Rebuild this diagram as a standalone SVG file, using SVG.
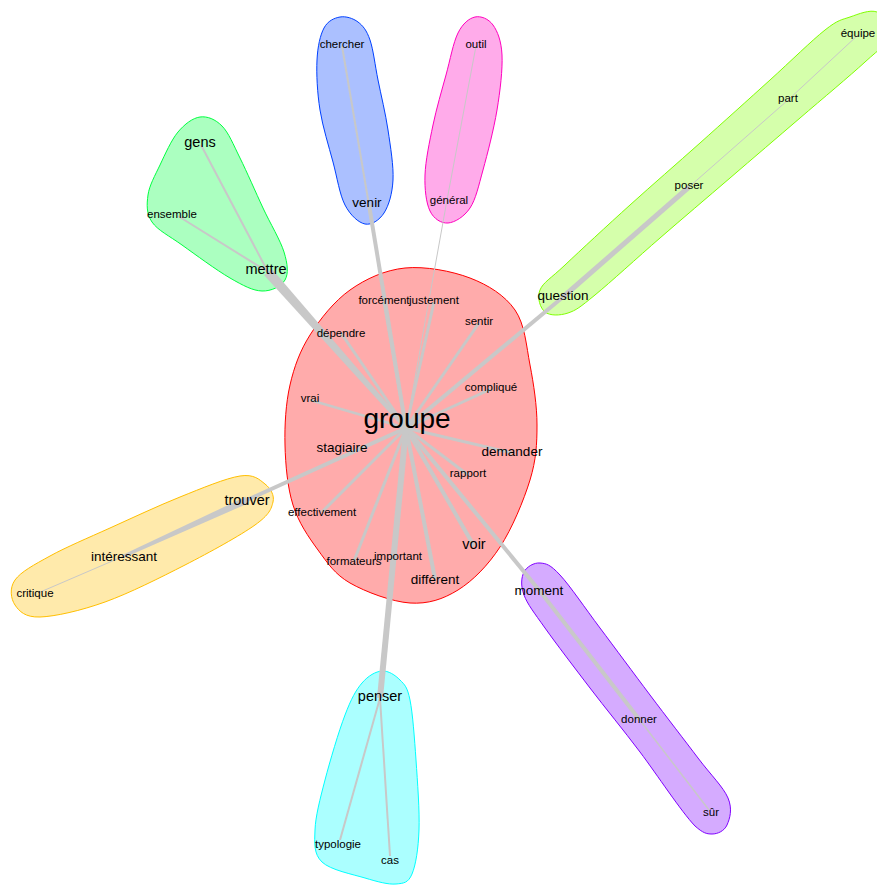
<svg xmlns="http://www.w3.org/2000/svg" width="877" height="885" viewBox="0 0 877 885">
<style>
.hull{stroke-width:1;fill-opacity:0.33}
.e{stroke:#c8c8c8;stroke-linecap:butt;fill:none}
.ep{fill:#c8c8c8;stroke:none}
text{font-family:"Liberation Sans",Arial,sans-serif;fill:#000;text-anchor:middle}
.s{font-size:11.5px}
.m{font-size:13.5px}
.l{font-size:14.5px}
.xl{font-size:28px}
</style>
<rect width="877" height="885" fill="#fff"/>
<g id="hulls">
<path id="hull-red" class="hull" fill="#ff0000" stroke="#ff0000" d="M 405,268 C 425,266 451.7,271 470,278 C 488.3,285 505,295.5 515,310 C 525,324.5 526.3,345.8 530,365 C 533.7,384.2 537,405.8 537,425 C 537,444.2 536.2,459.7 530,480 C 523.8,500.3 512,528.7 500,547 C 488,565.3 473,580.7 458,590 C 443,599.3 428,604.2 410,603 C 392,601.8 365.3,591.8 350,583 C 334.7,574.2 327.5,563 318,550 C 308.5,537 298.5,522.5 293,505 C 287.5,487.5 285.5,465 285,445 C 284.5,425 285.8,403.3 290,385 C 294.2,366.7 300,350.8 310,335 C 320,319.2 334.2,301.2 350,290 C 365.8,278.8 385,270 405,268 Z"/>
<path id="hull-green" class="hull" fill="#00ff40" stroke="#00ff40" d="M 200,117 C 207.3,116 215.3,119.2 222,126 C 228.7,132.8 233.2,144.3 240,158 C 246.8,171.7 255.7,192.3 263,208 C 270.3,223.7 280.3,240 284,252 C 287.7,264 288.7,273.5 285,280 C 281.3,286.5 271.2,291.3 262,291 C 252.8,290.7 243.3,285.7 230,278 C 216.7,270.3 195,254.3 182,245 C 169,235.7 157.7,230.3 152,222 C 146.3,213.7 146.7,204.5 148,195 C 149.3,185.5 155,175.5 160,165 C 165,154.5 171.3,140 178,132 C 184.7,124 192.7,118 200,117 Z"/>
<path id="hull-blue" class="hull" fill="#0040ff" stroke="#0040ff" d="M 340,17 C 345.7,16 353,18.2 358,22 C 363,25.8 366.7,30.3 370,40 C 373.3,49.7 375,65 378,80 C 381,95 385.5,113.3 388,130 C 390.5,146.7 393.7,166.2 393,180 C 392.3,193.8 388.7,205.7 384,213 C 379.3,220.3 371.5,225.3 365,224 C 358.5,222.7 350.3,215.3 345,205 C 339.7,194.7 337.2,177.8 333,162 C 328.8,146.2 322.7,127 320,110 C 317.3,93 316.3,73.7 317,60 C 317.7,46.3 320.2,35.2 324,28 C 327.8,20.8 334.3,18 340,17 Z"/>
<path id="hull-pink" class="hull" fill="#ff00bf" stroke="#ff00bf" d="M 475,17 C 480.8,15.7 488.5,18.7 493,25 C 497.5,31.3 501.3,40.8 502,55 C 502.7,69.2 500.2,90.8 497,110 C 493.8,129.2 487.5,153.7 483,170 C 478.5,186.3 475.8,199.2 470,208 C 464.2,216.8 454.7,222.5 448,223 C 441.3,223.5 433.8,219 430,211 C 426.2,203 424.5,189.3 425,175 C 425.5,160.7 429.5,141.7 433,125 C 436.5,108.3 441.8,90.3 446,75 C 450.2,59.7 453.2,42.7 458,33 C 462.8,23.3 469.2,18.3 475,17 Z"/>
<path id="hull-lime" class="hull" fill="#80ff00" stroke="#80ff00" d="M 850,17 C 858.7,14 869.8,9.3 877,12 C 884.2,14.7 895,24.7 893,33 C 891,41.3 880.5,47.8 865,62 C 849.5,76.2 822.5,98.7 800,118 C 777.5,137.3 753.3,158 730,178 C 706.7,198 682.5,218.5 660,238 C 637.5,257.5 610.3,282.5 595,295 C 579.7,307.5 576.3,310.2 568,313 C 559.7,315.8 549.7,315.8 545,312 C 540.3,308.2 536.7,297.8 540,290 C 543.3,282.2 550,279.2 565,265 C 580,250.8 607.5,225.3 630,205 C 652.5,184.7 676.7,163.8 700,143 C 723.3,122.2 749.2,98.8 770,80 C 790.8,61.2 811.7,40.5 825,30 C 838.3,19.5 841.3,20 850,17 Z"/>
<path id="hull-yellow" class="hull" fill="#ffbf00" stroke="#ffbf00" d="M 240,476 C 254.2,473.8 259.5,479.7 265,484 C 270.5,488.3 274.7,495.2 273,502 C 271.3,508.8 269.7,514.5 255,525 C 240.3,535.5 210,552.2 185,565 C 160,577.8 129.2,593.3 105,602 C 80.8,610.7 55,616.5 40,617 C 25,617.5 19.2,611.2 15,605 C 10.8,598.8 9.2,588.2 15,580 C 20.8,571.8 34.2,564.7 50,556 C 65.8,547.3 88.3,537.8 110,528 C 131.7,518.2 158.3,505.7 180,497 C 201.7,488.3 225.8,478.2 240,476 Z"/>
<path id="hull-purple" class="hull" fill="#8000ff" stroke="#8000ff" d="M 540,563 C 546,563.5 550,564.2 560,575 C 570,585.8 585,608 600,628 C 615,648 633.7,673.3 650,695 C 666.3,716.7 685,740.8 698,758 C 711,775.2 723.2,786.8 728,798 C 732.8,809.2 729.7,819 727,825 C 724.3,831 717.7,834 712,834 C 706.3,834 703,833 695,826 C 681,811.3 657.2,774.8 640,752 C 622.8,729.2 605.8,708.7 590,688 C 574.2,667.3 556,643.5 545,628 C 534,612.5 527.5,604.3 524,595 C 520.5,585.7 521.3,577.3 524,572 C 526.7,566.7 534,562.5 540,563 Z"/>
<path id="hull-cyan" class="hull" fill="#00ffff" stroke="#00ffff" d="M 382,671 C 388.3,670.5 395.3,675.2 400,680 C 404.7,684.8 407.3,686.7 410,700 C 412.7,713.3 414.5,738.3 416,760 C 417.5,781.7 419.7,811 419,830 C 418.3,849 415.8,865 412,874 C 408.2,883 403.8,883.3 396,884 C 388.2,884.7 377.3,881.7 365,878 C 352.7,874.3 330.3,870 322,862 C 313.7,854 314.5,843.7 315,830 C 315.5,816.3 320,799.2 325,780 C 330,760.8 338.8,731.2 345,715 C 351.2,698.8 355.8,690.3 362,683 C 368.2,675.7 375.7,671.5 382,671 Z"/>
</g>
<g id="connectors">
<polygon class="ep" points="407.5,426.7 271.8,268.7 264.2,275.3 404.5,429.3"/>
<line class="e" stroke-width="3" x1="406" y1="428" x2="341" y2="333"/>
<line class="e" stroke-width="3" x1="406" y1="428" x2="384" y2="302"/>
<line class="e" stroke-width="3" x1="406" y1="428" x2="434" y2="302"/>
<line class="e" stroke-width="4" x1="406" y1="428" x2="369" y2="205"/>
<line class="e" stroke-width="1" x1="406" y1="428" x2="447" y2="200"/>
<line class="e" stroke-width="3" x1="406" y1="428" x2="479" y2="323"/>
<line class="e" stroke-width="4" x1="406" y1="428" x2="563" y2="297"/>
<line class="e" stroke-width="3" x1="406" y1="428" x2="491" y2="389"/>
<line class="e" stroke-width="2.5" x1="406" y1="428" x2="310" y2="400"/>
<line class="e" stroke-width="3" x1="406" y1="428" x2="512" y2="453"/>
<line class="e" stroke-width="3" x1="406" y1="428" x2="468" y2="475"/>
<line class="e" stroke-width="3" x1="406" y1="428" x2="322" y2="512"/>
<line class="e" stroke-width="3" x1="406" y1="428" x2="354" y2="561"/>
<line class="e" stroke-width="4" x1="406" y1="428" x2="474" y2="546"/>
<line class="e" stroke-width="4" x1="406" y1="428" x2="435" y2="579"/>
<line class="e" stroke-width="4" x1="406" y1="428" x2="247" y2="500"/>
<line class="e" stroke-width="6" x1="406" y1="428" x2="380" y2="698"/>
<line class="e" stroke-width="4" x1="406" y1="428" x2="539" y2="590"/>
<line class="e" stroke-width="5" x1="563" y1="297" x2="689" y2="187"/>
<line class="e" stroke-width="1" x1="689" y1="187" x2="788" y2="100"/>
<line class="e" stroke-width="1" x1="788" y1="100" x2="858" y2="35"/>
<line class="e" stroke-width="2" x1="369" y1="205" x2="342" y2="46"/>
<line class="e" stroke-width="1" x1="447" y1="200" x2="476" y2="46"/>
<line class="e" stroke-width="2" x1="268" y1="272" x2="201" y2="145"/>
<line class="e" stroke-width="2" x1="268" y1="272" x2="178" y2="216"/>
<polygon class="ep" points="248.5,503.2 124.6,557.4 123.4,554.6 245.5,496.8"/>
<line class="e" stroke-width="1" x1="124" y1="556" x2="38" y2="593"/>
<line class="e" stroke-width="4" x1="539" y1="590" x2="639" y2="719"/>
<line class="e" stroke-width="1.5" x1="639" y1="719" x2="709" y2="810"/>
<line class="e" stroke-width="2" x1="380" y1="698" x2="340" y2="840"/>
<line class="e" stroke-width="2" x1="380" y1="698" x2="390" y2="856"/>
</g>
<g id="nodes">
<g id="n-groupe"><text class="xl" x="407" y="428">groupe</text></g>
<g id="n-forcement"><text class="s" x="384" y="304">forcément</text></g>
<g id="n-justement"><text class="s" x="434" y="304">justement</text></g>
<g id="n-sentir"><text class="s" x="479" y="325">sentir</text></g>
<g id="n-dependre"><text class="s" x="341" y="337">dépendre</text></g>
<g id="n-complique"><text class="s" x="491" y="391">compliqué</text></g>
<g id="n-vrai"><text class="s" x="310" y="402">vrai</text></g>
<g id="n-stagiaire"><text class="m" x="342" y="452">stagiaire</text></g>
<g id="n-demander"><text class="m" x="512" y="456">demander</text></g>
<g id="n-rapport"><text class="s" x="468" y="477">rapport</text></g>
<g id="n-effectivement"><text class="s" x="322" y="516">effectivement</text></g>
<g id="n-formateurs"><text class="s" x="354" y="565">formateurs</text></g>
<g id="n-important"><text class="s" x="398" y="560">important</text></g>
<g id="n-voir"><text class="l" x="474" y="549">voir</text></g>
<g id="n-different"><text class="m" x="435" y="584">différent</text></g>
<g id="n-mettre"><text class="l" x="266" y="274">mettre</text></g>
<g id="n-gens"><text class="l" x="200" y="147">gens</text></g>
<g id="n-ensemble"><text class="s" x="172" y="218">ensemble</text></g>
<g id="n-chercher"><text class="s" x="342" y="48">chercher</text></g>
<g id="n-venir"><text class="m" x="367" y="207">venir</text></g>
<g id="n-outil"><text class="s" x="476" y="48">outil</text></g>
<g id="n-general"><text class="s" x="449" y="204">général</text></g>
<g id="n-question"><text class="m" x="563" y="300">question</text></g>
<g id="n-poser"><text class="s" x="689" y="189">poser</text></g>
<g id="n-part"><text class="s" x="788" y="102">part</text></g>
<g id="n-equipe"><text class="s" x="858" y="37">équipe</text></g>
<g id="n-trouver"><text class="l" x="247" y="505">trouver</text></g>
<g id="n-interessant"><text class="m" x="124" y="561">intéressant</text></g>
<g id="n-critique"><text class="s" x="35" y="597">critique</text></g>
<g id="n-moment"><text class="m" x="539" y="595">moment</text></g>
<g id="n-donner"><text class="s" x="639" y="723">donner</text></g>
<g id="n-sur"><text class="s" x="711" y="816">sûr</text></g>
<g id="n-penser"><text class="l" x="380" y="701">penser</text></g>
<g id="n-typologie"><text class="s" x="338" y="848">typologie</text></g>
<g id="n-cas"><text class="s" x="390" y="864">cas</text></g>
</g>
</svg>
